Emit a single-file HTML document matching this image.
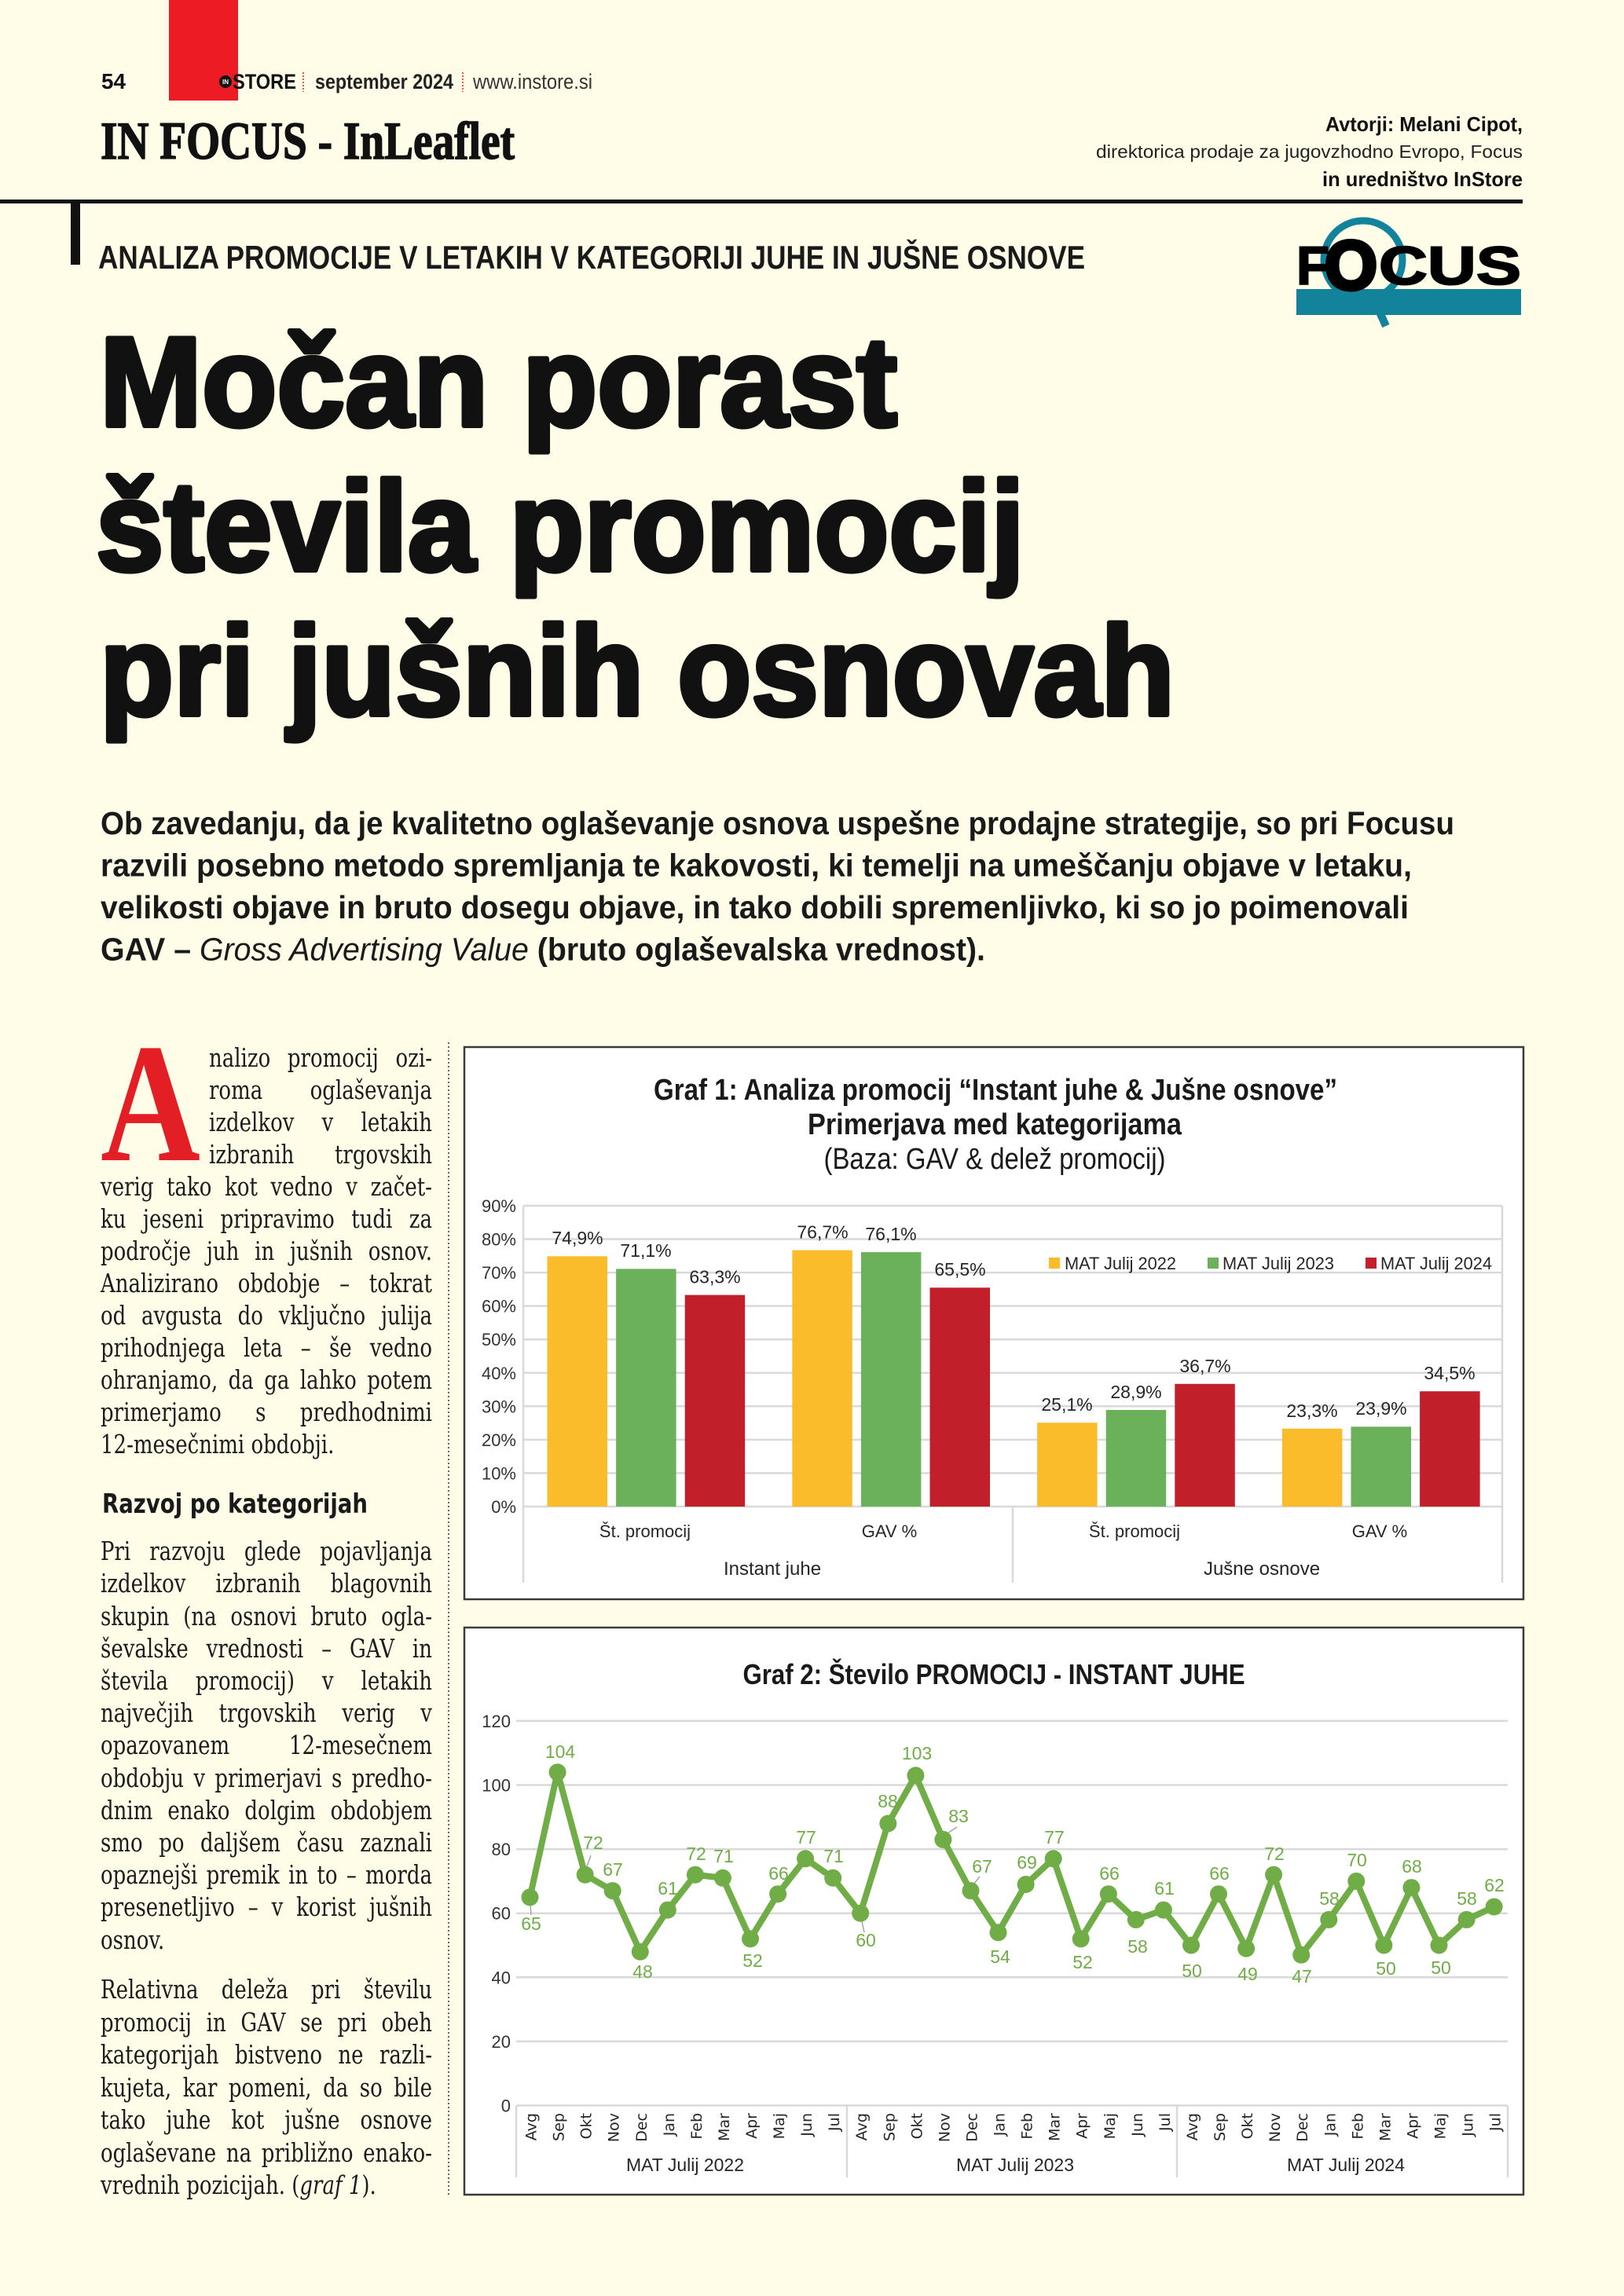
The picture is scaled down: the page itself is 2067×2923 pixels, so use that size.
<!DOCTYPE html>
<html><head><meta charset="utf-8">
<style>
html,body{margin:0;padding:0;}
body{width:2067px;height:2923px;background:#FFFDE8;position:relative;overflow:hidden;}
svg{position:absolute;left:0;top:0;}
.col{position:absolute;font-family:"DejaVu Serif","Liberation Serif",serif;font-size:32.5px;color:#1c1c1c;transform:scaleX(0.8);transform-origin:0 0;}
.col p{margin:0;padding:0;white-space:nowrap;}
.col p.j{display:flex;justify-content:space-between;}
w{display:block;}
</style></head><body>
<svg width="2067" height="2923" viewBox="0 0 2067 2923" xmlns="http://www.w3.org/2000/svg" font-family="Liberation Sans, DejaVu Sans, sans-serif">
<!-- header -->
<rect x="215" y="0" width="88" height="128" fill="#ED1C24"/>
<text x="129" y="113" font-size="28" font-weight="bold" textLength="31" lengthAdjust="spacingAndGlyphs" fill="#111">54</text>
<circle cx="287" cy="104" r="8" fill="#111"/>
<text x="287" y="107" font-size="8" font-weight="bold" fill="#fff" text-anchor="middle">IN</text>
<text x="296" y="113" font-size="27" font-weight="bold" textLength="81" lengthAdjust="spacingAndGlyphs" fill="#111">STORE</text>
<line x1="386" y1="92" x2="386" y2="117" stroke="#ED1C24" stroke-width="1.5" stroke-dasharray="2 2"/>
<text x="401" y="113" font-size="27" font-weight="bold" textLength="176" lengthAdjust="spacingAndGlyphs" fill="#222">september 2024</text>
<line x1="589" y1="92" x2="589" y2="117" stroke="#ED1C24" stroke-width="1.5" stroke-dasharray="2 2"/>
<text x="602" y="113" font-size="27" textLength="152" lengthAdjust="spacingAndGlyphs" fill="#333">www.instore.si</text>
<text x="128" y="202" font-family="Liberation Serif, serif" font-size="68" font-weight="bold" textLength="527" lengthAdjust="spacingAndGlyphs" fill="#111" stroke="#111" stroke-width="1.5">IN FOCUS - InLeaflet</text>
<text x="1938" y="167" text-anchor="end" font-size="26" font-weight="bold" textLength="251" lengthAdjust="spacingAndGlyphs" fill="#111">Avtorji: Melani Cipot,</text>
<text x="1938" y="201" text-anchor="end" font-size="23" textLength="543" lengthAdjust="spacingAndGlyphs" fill="#222">direktorica prodaje za jugovzhodno Evropo, Focus</text>
<text x="1938" y="237" text-anchor="end" font-size="26" font-weight="bold" textLength="255" lengthAdjust="spacingAndGlyphs" fill="#111">in uredništvo InStore</text>
<rect x="0" y="254" width="1938" height="5" fill="#111"/>
<rect x="90" y="257" width="12" height="80" fill="#111"/>
<text x="125" y="342" font-size="42" font-weight="bold" textLength="1256" lengthAdjust="spacingAndGlyphs" fill="#1a1a1a">ANALIZA PROMOCIJE V LETAKIH V KATEGORIJI JUHE IN JUŠNE OSNOVE</text>
<!-- Focus logo -->
<rect x="1650" y="368" width="286" height="33" fill="#13829B"/>
<circle cx="1735" cy="331" r="50" fill="none" stroke="#13829B" stroke-width="9"/>
<line x1="1748" y1="380" x2="1764" y2="415" stroke="#13829B" stroke-width="10"/>
<text x="1650" y="362" font-size="69" font-weight="bold" textLength="42" lengthAdjust="spacingAndGlyphs" fill="#000" stroke="#000" stroke-width="2">F</text>
<text x="1755" y="362" font-size="69" font-weight="bold" textLength="181" lengthAdjust="spacingAndGlyphs" fill="#000" stroke="#000" stroke-width="2">CUS</text>
<text x="1686" y="368" font-size="88" font-weight="bold" textLength="67" lengthAdjust="spacingAndGlyphs" fill="#000" stroke="#000" stroke-width="5">O</text>
<!-- headline -->
<g font-size="162" font-weight="bold" fill="#111" stroke="#111" stroke-width="6" stroke-linejoin="round">
<text x="127" y="542" textLength="1015" lengthAdjust="spacingAndGlyphs">Močan porast</text>
<text x="122" y="726" textLength="1182" lengthAdjust="spacingAndGlyphs">števila promocij</text>
<text x="127" y="910" textLength="1368" lengthAdjust="spacingAndGlyphs">pri jušnih osnovah</text>
</g>
<!-- intro -->
<g font-size="41" font-weight="bold" fill="#1a1a1a">
<text x="128" y="1062" textLength="1723" lengthAdjust="spacingAndGlyphs">Ob zavedanju, da je kvalitetno oglaševanje osnova uspešne prodajne strategije, so pri Focusu</text>
<text x="128" y="1115.5" textLength="1669" lengthAdjust="spacingAndGlyphs">razvili posebno metodo spremljanja te kakovosti, ki temelji na umeščanju objave v letaku,</text>
<text x="128" y="1169" textLength="1665" lengthAdjust="spacingAndGlyphs">velikosti objave in bruto dosegu objave, in tako dobili spremenljivko, ki so jo poimenovali</text>
<text x="128" y="1222.5" textLength="1126" lengthAdjust="spacingAndGlyphs">GAV – <tspan font-style="italic" font-weight="normal">Gross Advertising Value</tspan> (bruto oglaševalska vrednost).</text>
</g>
<!-- drop cap & subhead -->
<text x="128" y="1477" font-family="Liberation Serif, serif" font-size="216" font-weight="bold" textLength="127" lengthAdjust="spacingAndGlyphs" fill="#E31E24">A</text>
<text x="130" y="1926" font-family="DejaVu Sans, sans-serif" font-size="34" font-weight="bold" textLength="338" lengthAdjust="spacingAndGlyphs" fill="#1a1a1a">Razvoj po kategorijah</text>
<line x1="571" y1="1327" x2="571" y2="2796" stroke="#666" stroke-width="2" stroke-dasharray="2 3"/>

<!-- ===== Chart 1 ===== -->
<rect x="591" y="1333" width="1348" height="703" fill="#fff" stroke="#3a3a3a" stroke-width="2.5"/>
<g font-weight="bold" fill="#1a1a1a" font-size="38" text-anchor="middle">
<text x="1267" y="1400" textLength="870" lengthAdjust="spacingAndGlyphs">Graf 1: Analiza promocij “Instant juhe &amp; Jušne osnove”</text>
<text x="1266" y="1444" textLength="476" lengthAdjust="spacingAndGlyphs">Primerjava  med kategorijama</text>
</g>
<text x="1266" y="1488" font-size="38" text-anchor="middle" textLength="435" lengthAdjust="spacingAndGlyphs" fill="#1a1a1a">(Baza: GAV &amp; delež promocij)</text>
<g stroke="#D9D9D9" stroke-width="2.5">
<line x1="666" y1="1535" x2="1912" y2="1535"/>
<line x1="666" y1="1577.5" x2="1912" y2="1577.5"/>
<line x1="666" y1="1620.1" x2="1912" y2="1620.1"/>
<line x1="666" y1="1662.6" x2="1912" y2="1662.6"/>
<line x1="666" y1="1705.2" x2="1912" y2="1705.2"/>
<line x1="666" y1="1747.8" x2="1912" y2="1747.8"/>
<line x1="666" y1="1790.3" x2="1912" y2="1790.3"/>
<line x1="666" y1="1832.9" x2="1912" y2="1832.9"/>
<line x1="666" y1="1875.4" x2="1912" y2="1875.4"/>
<line x1="666" y1="1918" x2="1912" y2="1918"/>
<line x1="666" y1="1535" x2="666" y2="2015"/>
<line x1="1912" y1="1535" x2="1912" y2="2015"/>
<line x1="1289" y1="1918" x2="1289" y2="2015"/>
</g>
<g font-size="22" fill="#333" text-anchor="end">
<text x="657" y="1543">90%</text><text x="657" y="1585.5">80%</text><text x="657" y="1628">70%</text>
<text x="657" y="1670.6">60%</text><text x="657" y="1713.2">50%</text><text x="657" y="1755.8">40%</text>
<text x="657" y="1798.3">30%</text><text x="657" y="1840.9">20%</text><text x="657" y="1883.4">10%</text>
<text x="657" y="1926">0%</text>
</g>
<g>
<rect x="696.5" y="1599.3" width="76.5" height="318.7" fill="#FBBC2C"/>
<rect x="784.1" y="1615.4" width="76.5" height="302.6" fill="#6BB15A"/>
<rect x="871.7" y="1648.6" width="76.5" height="269.4" fill="#C1202B"/>
<rect x="1008.3" y="1591.6" width="76.5" height="326.4" fill="#FBBC2C"/>
<rect x="1095.9" y="1594.1" width="76.5" height="323.9" fill="#6BB15A"/>
<rect x="1183.5" y="1639.3" width="76.5" height="278.7" fill="#C1202B"/>
<rect x="1320.1" y="1811.2" width="76.5" height="106.8" fill="#FBBC2C"/>
<rect x="1407.7" y="1795" width="76.5" height="123" fill="#6BB15A"/>
<rect x="1495.3" y="1761.8" width="76.5" height="156.2" fill="#C1202B"/>
<rect x="1631.9" y="1818.8" width="76.5" height="99.2" fill="#FBBC2C"/>
<rect x="1719.5" y="1816.3" width="76.5" height="101.7" fill="#6BB15A"/>
<rect x="1807.1" y="1771.2" width="76.5" height="146.8" fill="#C1202B"/>
</g>
<g font-size="23" fill="#262626" text-anchor="middle">
<text x="735" y="1584">74,9%</text><text x="822" y="1600">71,1%</text><text x="910" y="1633.5">63,3%</text>
<text x="1047" y="1576.5">76,7%</text><text x="1134" y="1579">76,1%</text><text x="1222" y="1624">65,5%</text>
<text x="1358" y="1796">25,1%</text><text x="1446" y="1780">28,9%</text><text x="1534" y="1747">36,7%</text>
<text x="1670" y="1804">23,3%</text><text x="1758" y="1801">23,9%</text><text x="1845" y="1756">34,5%</text>
</g>
<rect x="1335" y="1601" width="14" height="14" fill="#FBBC2C"/>
<rect x="1537" y="1601" width="14" height="14" fill="#6BB15A"/>
<rect x="1738" y="1601" width="14" height="14" fill="#C1202B"/>
<g font-size="22" fill="#262626">
<text x="1355" y="1616" textLength="142" lengthAdjust="spacingAndGlyphs">MAT Julij 2022</text>
<text x="1556" y="1616" textLength="142" lengthAdjust="spacingAndGlyphs">MAT Julij 2023</text>
<text x="1757" y="1616" textLength="142" lengthAdjust="spacingAndGlyphs">MAT Julij 2024</text>
</g>
<g font-size="22" fill="#262626" text-anchor="middle">
<text x="821" y="1957">Št. promocij</text><text x="1132" y="1957">GAV %</text>
<text x="1444" y="1957">Št. promocij</text><text x="1756" y="1957">GAV %</text>
<text x="983" y="2005" font-size="24">Instant juhe</text><text x="1606" y="2005" font-size="24">Jušne osnove</text>
</g>

<!-- ===== Chart 2 ===== -->
<rect x="591" y="2072" width="1348" height="722" fill="#fff" stroke="#3a3a3a" stroke-width="2.5"/>
<text x="1265" y="2144" font-size="36" font-weight="bold" text-anchor="middle" textLength="639" lengthAdjust="spacingAndGlyphs" fill="#1a1a1a">Graf 2: Število PROMOCIJ - INSTANT JUHE</text>
<g stroke="#D9D9D9" stroke-width="2.5">
<line x1="657" y1="2190.9" x2="1919" y2="2190.9"/>
<line x1="657" y1="2272.5" x2="1919" y2="2272.5"/>
<line x1="657" y1="2354.1" x2="1919" y2="2354.1"/>
<line x1="657" y1="2435.7" x2="1919" y2="2435.7"/>
<line x1="657" y1="2517.3" x2="1919" y2="2517.3"/>
<line x1="657" y1="2598.9" x2="1919" y2="2598.9"/>
<line x1="657" y1="2680.5" x2="1919" y2="2680.5"/>
<line x1="657" y1="2680.5" x2="657" y2="2772"/>
<line x1="1078" y1="2680.5" x2="1078" y2="2772"/>
<line x1="1498" y1="2680.5" x2="1498" y2="2772"/>
<line x1="1919" y1="2680.5" x2="1919" y2="2772"/>
</g>
<g font-size="22" fill="#333" text-anchor="end">
<text x="650" y="2199">120</text><text x="650" y="2280.5">100</text><text x="650" y="2362">80</text>
<text x="650" y="2443.7">60</text><text x="650" y="2525.3">40</text><text x="650" y="2607">20</text>
<text x="650" y="2688.5">0</text>
</g>
<g stroke="#A6A6A6" stroke-width="1.5">
<line x1="675" y1="2425" x2="676" y2="2438"/>
<line x1="747" y1="2376" x2="752" y2="2362"/>
<line x1="1206" y1="2334" x2="1218" y2="2326"/>
<line x1="1240" y1="2398" x2="1247" y2="2389"/>
<line x1="1097" y1="2446" x2="1100" y2="2460"/>
</g>
<polyline fill="none" stroke="#70AD47" stroke-width="8" stroke-linejoin="round" stroke-linecap="round" points="674.5,2415.3 709.6,2256.2 744.7,2386.7 779.7,2407.1 814.8,2484.7 849.8,2431.6 884.9,2386.7 919.9,2390.8 955,2468.3 990.1,2411.2 1025.1,2366.3 1060.2,2390.8 1095.2,2435.7 1130.3,2321.5 1165.4,2260.3 1200.4,2341.9 1235.5,2407.1 1270.5,2460.2 1305.6,2399 1340.7,2366.3 1375.7,2468.3 1410.8,2411.2 1445.8,2443.9 1480.9,2431.6 1516,2476.5 1551,2411.2 1586.1,2480.6 1621.1,2386.7 1656.2,2488.7 1691.3,2443.9 1726.3,2394.9 1761.4,2476.5 1796.4,2403.1 1831.5,2476.5 1866.6,2443.9 1901.6,2427.5"/>
<g fill="#70AD47">
<circle cx="674.5" cy="2415.3" r="11"/><circle cx="709.6" cy="2256.2" r="11"/><circle cx="744.7" cy="2386.7" r="11"/><circle cx="779.7" cy="2407.1" r="11"/><circle cx="814.8" cy="2484.7" r="11"/><circle cx="849.8" cy="2431.6" r="11"/><circle cx="884.9" cy="2386.7" r="11"/><circle cx="919.9" cy="2390.8" r="11"/><circle cx="955" cy="2468.3" r="11"/><circle cx="990.1" cy="2411.2" r="11"/><circle cx="1025.1" cy="2366.3" r="11"/><circle cx="1060.2" cy="2390.8" r="11"/>
<circle cx="1095.2" cy="2435.7" r="11"/><circle cx="1130.3" cy="2321.5" r="11"/><circle cx="1165.4" cy="2260.3" r="11"/><circle cx="1200.4" cy="2341.9" r="11"/><circle cx="1235.5" cy="2407.1" r="11"/><circle cx="1270.5" cy="2460.2" r="11"/><circle cx="1305.6" cy="2399" r="11"/><circle cx="1340.7" cy="2366.3" r="11"/><circle cx="1375.7" cy="2468.3" r="11"/><circle cx="1410.8" cy="2411.2" r="11"/><circle cx="1445.8" cy="2443.9" r="11"/><circle cx="1480.9" cy="2431.6" r="11"/>
<circle cx="1516" cy="2476.5" r="11"/><circle cx="1551" cy="2411.2" r="11"/><circle cx="1586.1" cy="2480.6" r="11"/><circle cx="1621.1" cy="2386.7" r="11"/><circle cx="1656.2" cy="2488.7" r="11"/><circle cx="1691.3" cy="2443.9" r="11"/><circle cx="1726.3" cy="2394.9" r="11"/><circle cx="1761.4" cy="2476.5" r="11"/><circle cx="1796.4" cy="2403.1" r="11"/><circle cx="1831.5" cy="2476.5" r="11"/><circle cx="1866.6" cy="2443.9" r="11"/><circle cx="1901.6" cy="2427.5" r="11"/>
</g>
<g font-size="23" fill="#70AD47" text-anchor="middle">
<text x="676" y="2457">65</text><text x="713" y="2238">104</text><text x="755" y="2354">72</text><text x="780" y="2388">67</text>
<text x="818" y="2518">48</text><text x="850" y="2412">61</text><text x="886" y="2368">72</text><text x="921" y="2371">71</text>
<text x="958" y="2504">52</text><text x="991" y="2393">66</text><text x="1026" y="2347">77</text><text x="1061" y="2371">71</text>
<text x="1102" y="2478">60</text><text x="1130" y="2301">88</text><text x="1167" y="2240">103</text><text x="1220" y="2320">83</text>
<text x="1250" y="2384">67</text><text x="1273" y="2499">54</text><text x="1307" y="2379">69</text><text x="1342" y="2347">77</text>
<text x="1378" y="2506">52</text><text x="1412" y="2393">66</text><text x="1448" y="2486">58</text><text x="1482" y="2412">61</text>
<text x="1517" y="2517">50</text><text x="1552" y="2393">66</text><text x="1588" y="2521">49</text><text x="1622" y="2368">72</text>
<text x="1657" y="2524">47</text><text x="1692" y="2425">58</text><text x="1727" y="2376">70</text><text x="1764" y="2514">50</text>
<text x="1797" y="2384">68</text><text x="1834" y="2513">50</text><text x="1867" y="2425">58</text><text x="1902" y="2408">62</text>
</g>
<g font-family="DejaVu Sans, sans-serif" font-size="19" fill="#262626" text-anchor="end">
<text transform="translate(682.5,2690) rotate(-90)">Avg</text>
<text transform="translate(717.6,2690) rotate(-90)">Sep</text>
<text transform="translate(752.7,2690) rotate(-90)">Okt</text>
<text transform="translate(787.7,2690) rotate(-90)">Nov</text>
<text transform="translate(822.8,2690) rotate(-90)">Dec</text>
<text transform="translate(857.8,2690) rotate(-90)">Jan</text>
<text transform="translate(892.9,2690) rotate(-90)">Feb</text>
<text transform="translate(927.9,2690) rotate(-90)">Mar</text>
<text transform="translate(963,2690) rotate(-90)">Apr</text>
<text transform="translate(998.1,2690) rotate(-90)">Maj</text>
<text transform="translate(1033.1,2690) rotate(-90)">Jun</text>
<text transform="translate(1068.2,2690) rotate(-90)">Jul</text>
<text transform="translate(1103.2,2690) rotate(-90)">Avg</text>
<text transform="translate(1138.3,2690) rotate(-90)">Sep</text>
<text transform="translate(1173.4,2690) rotate(-90)">Okt</text>
<text transform="translate(1208.4,2690) rotate(-90)">Nov</text>
<text transform="translate(1243.5,2690) rotate(-90)">Dec</text>
<text transform="translate(1278.5,2690) rotate(-90)">Jan</text>
<text transform="translate(1313.6,2690) rotate(-90)">Feb</text>
<text transform="translate(1348.7,2690) rotate(-90)">Mar</text>
<text transform="translate(1383.7,2690) rotate(-90)">Apr</text>
<text transform="translate(1418.8,2690) rotate(-90)">Maj</text>
<text transform="translate(1453.8,2690) rotate(-90)">Jun</text>
<text transform="translate(1488.9,2690) rotate(-90)">Jul</text>
<text transform="translate(1524,2690) rotate(-90)">Avg</text>
<text transform="translate(1559,2690) rotate(-90)">Sep</text>
<text transform="translate(1594.1,2690) rotate(-90)">Okt</text>
<text transform="translate(1629.1,2690) rotate(-90)">Nov</text>
<text transform="translate(1664.2,2690) rotate(-90)">Dec</text>
<text transform="translate(1699.3,2690) rotate(-90)">Jan</text>
<text transform="translate(1734.3,2690) rotate(-90)">Feb</text>
<text transform="translate(1769.4,2690) rotate(-90)">Mar</text>
<text transform="translate(1804.4,2690) rotate(-90)">Apr</text>
<text transform="translate(1839.5,2690) rotate(-90)">Maj</text>
<text transform="translate(1874.6,2690) rotate(-90)">Jun</text>
<text transform="translate(1909.6,2690) rotate(-90)">Jul</text>
</g>
<g font-size="23" fill="#262626" text-anchor="middle">
<text x="872" y="2764">MAT Julij 2022</text>
<text x="1292" y="2764">MAT Julij 2023</text>
<text x="1713" y="2764">MAT Julij 2024</text>
</g>
</svg>

<!-- column text paragraph 1 -->
<div class="col" style="left:266px;top:1326.7px;width:355px;line-height:41px;">
<p class="j"><w>nalizo</w><w>promocij</w><w>ozi-</w></p>
<p class="j"><w>roma</w><w>oglaševanja</w></p>
<p class="j"><w>izdelkov</w><w>v</w><w>letakih</w></p>
<p class="j"><w>izbranih</w><w>trgovskih</w></p>
</div>
<div class="col" style="left:128px;top:1490.7px;width:527.5px;line-height:41px;">
<p class="j"><w>verig</w><w>tako</w><w>kot</w><w>vedno</w><w>v</w><w>začet-</w></p>
<p class="j"><w>ku</w><w>jeseni</w><w>pripravimo</w><w>tudi</w><w>za</w></p>
<p class="j"><w>področje</w><w>juh</w><w>in</w><w>jušnih</w><w>osnov.</w></p>
<p class="j"><w>Analizirano</w><w>obdobje</w><w>–</w><w>tokrat</w></p>
<p class="j"><w>od</w><w>avgusta</w><w>do</w><w>vključno</w><w>julija</w></p>
<p class="j"><w>prihodnjega</w><w>leta</w><w>–</w><w>še</w><w>vedno</w></p>
<p class="j"><w>ohranjamo,</w><w>da</w><w>ga</w><w>lahko</w><w>potem</w></p>
<p class="j"><w>primerjamo</w><w>s</w><w>predhodnimi</w></p>
<p>12-mesečnimi obdobji.</p>
</div>
<!-- paragraph 2 -->
<div class="col" style="left:128px;top:1955.1px;width:527.5px;line-height:41.2px;">
<p class="j"><w>Pri</w><w>razvoju</w><w>glede</w><w>pojavljanja</w></p>
<p class="j"><w>izdelkov</w><w>izbranih</w><w>blagovnih</w></p>
<p class="j"><w>skupin</w><w>(na</w><w>osnovi</w><w>bruto</w><w>ogla-</w></p>
<p class="j"><w>ševalske</w><w>vrednosti</w><w>–</w><w>GAV</w><w>in</w></p>
<p class="j"><w>števila</w><w>promocij)</w><w>v</w><w>letakih</w></p>
<p class="j"><w>največjih</w><w>trgovskih</w><w>verig</w><w>v</w></p>
<p class="j"><w>opazovanem</w><w>12-mesečnem</w></p>
<p class="j"><w>obdobju</w><w>v</w><w>primerjavi</w><w>s</w><w>predho-</w></p>
<p class="j"><w>dnim</w><w>enako</w><w>dolgim</w><w>obdobjem</w></p>
<p class="j"><w>smo</w><w>po</w><w>daljšem</w><w>času</w><w>zaznali</w></p>
<p class="j"><w>opaznejši</w><w>premik</w><w>in</w><w>to</w><w>–</w><w>morda</w></p>
<p class="j"><w>presenetljivo</w><w>–</w><w>v</w><w>korist</w><w>jušnih</w></p>
<p>osnov.</p>
</div>
<!-- paragraph 3 -->
<div class="col" style="left:128px;top:2513px;width:527.5px;line-height:41.5px;">
<p class="j"><w>Relativna</w><w>deleža</w><w>pri</w><w>številu</w></p>
<p class="j"><w>promocij</w><w>in</w><w>GAV</w><w>se</w><w>pri</w><w>obeh</w></p>
<p class="j"><w>kategorijah</w><w>bistveno</w><w>ne</w><w>razli-</w></p>
<p class="j"><w>kujeta,</w><w>kar</w><w>pomeni,</w><w>da</w><w>so</w><w>bile</w></p>
<p class="j"><w>tako</w><w>juhe</w><w>kot</w><w>jušne</w><w>osnove</w></p>
<p class="j"><w>oglaševane</w><w>na</w><w>približno</w><w>enako-</w></p>
<p>vrednih pozicijah. (<i>graf 1</i>).</p>
</div>
</body></html>
